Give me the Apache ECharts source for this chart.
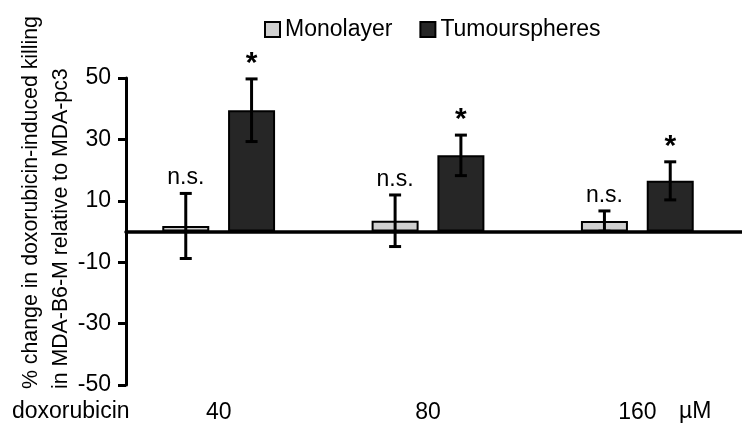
<!DOCTYPE html>
<html>
<head>
<meta charset="utf-8">
<script src="https://cdn.jsdelivr.net/npm/echarts@6/dist/echarts.min.js"></script>
<style>html,body{margin:0;padding:0;background:#fff}#c{width:742px;height:429px}</style>
</head>
<body>
<div id="c"></div>
<script>
var categories = ['40', '80', '160'];
var seriesNames = ['Monolayer', 'Tumourspheres'];
var monolayerMean = [1.8, 3.5, 3.4];
var monolayerErr = [10.6, 8.4, 3.3];
var tumourMean = [39.5, 24.8, 16.5];
var tumourErr = [10.2, 6.6, 6.2];
var monolayerNotes = ['n.s.', 'n.s.', 'n.s.'];
var tumourNotes = ['*', '*', '*'];
var yTicks = {min: -50, max: 50, interval: 20};

var FONT = '"Liberation Sans", Arial, sans-serif';
var FS = 23;
var BAR_W = 47, BAR_GAP = 0.4;
var OFF = (BAR_W + BAR_W * BAR_GAP) / 2;

function errData(means, errs, notes) {
  return means.map(function (m, i) { return [i, m, errs[i], notes[i]]; });
}

function errRender(sign, isStar) {
  return function (params, api) {
    var i = api.value(0), m = api.value(1), e = api.value(2);
    var note = api.value(3);
    var top = api.coord([i, m + e]);
    var bot = api.coord([i, m - e]);
    var x = top[0] + sign * OFF;
    var cap = 6;
    var st = {stroke: '#000', lineWidth: 3};
    return {
      type: 'group',
      children: [
        {type: 'line', shape: {x1: x, y1: top[1], x2: x, y2: bot[1]}, style: st},
        {type: 'line', shape: {x1: x - cap, y1: top[1], x2: x + cap, y2: top[1]}, style: st},
        {type: 'line', shape: {x1: x - cap, y1: bot[1], x2: x + cap, y2: bot[1]}, style: st},
        {type: 'text', x: x, y: top[1] - (isStar ? 0 : 4),
          style: {text: note, fill: '#000', font: (isStar ? 'bold 30px ' : FS + 'px ') + FONT,
            align: 'center', verticalAlign: 'bottom'}}
      ]
    };
  };
}

var chart = echarts.init(document.getElementById('c'));
chart.setOption({
  animation: false,
  backgroundColor: '#fff',
  textStyle: {fontFamily: FONT, color: '#000'},
  legend: {
    left: 259, top: 13, itemWidth: 15, itemHeight: 15, itemGap: 27, icon: 'rect',
    data: seriesNames,
    itemStyle: {borderColor: '#000', borderWidth: 2},
    textStyle: {fontSize: FS, color: '#000', fontFamily: FONT}
  },
  grid: [
    {left: 126, right: 0, top: 78, bottom: 44},
    {left: 114, right: 0, top: 78, bottom: 44}
  ],
  xAxis: [
    {type: 'category', gridIndex: 0, data: categories,
      axisLine: {onZero: true, lineStyle: {color: '#000', width: 3.5}},
      axisTick: {show: false}, axisLabel: {show: false}, splitLine: {show: false}},
    {type: 'category', gridIndex: 1, data: categories,
      axisLine: {show: false, onZero: false}, axisTick: {show: false},
      axisLabel: {fontSize: FS, color: '#000', margin: 16, fontFamily: FONT}}
  ],
  yAxis: [
    {type: 'value', gridIndex: 0, min: yTicks.min, max: yTicks.max, interval: yTicks.interval,
      axisLine: {show: true, lineStyle: {color: '#000', width: 3}},
      axisTick: {show: true, length: 8, lineStyle: {color: '#000', width: 3}},
      axisLabel: {fontSize: FS, color: '#000', margin: 15, fontFamily: FONT},
      splitLine: {show: false}},
    {type: 'value', gridIndex: 1, min: yTicks.min, max: yTicks.max, interval: yTicks.interval,
      show: false, splitLine: {show: false}}
  ],
  graphic: [
    {type: 'text', left: 12, top: 400, style: {text: 'doxorubicin', font: FS + 'px ' + FONT, fill: '#000'}},
    {type: 'text', left: 679, top: 400, style: {text: 'µM', font: FS + 'px ' + FONT, fill: '#000'}},
    {type: 'text', x: 31, y: 389, rotation: Math.PI / 2,
      style: {text: '% change in doxorubicin-induced killing', font: '21.3px ' + FONT, fill: '#000', align: 'left', verticalAlign: 'middle'}},
    {type: 'text', x: 61, y: 389, rotation: Math.PI / 2,
      style: {text: 'in MDA-B6-M relative to MDA-pc3', font: '21.3px ' + FONT, fill: '#000', align: 'left', verticalAlign: 'middle'}}
  ],
  series: [
    {name: seriesNames[0], type: 'bar', xAxisIndex: 1, yAxisIndex: 1, data: monolayerMean,
      barWidth: BAR_W, barGap: (BAR_GAP * 100) + '%',
      itemStyle: {color: '#d0d0d0', borderColor: '#000', borderWidth: 2}},
    {name: seriesNames[1], type: 'bar', xAxisIndex: 1, yAxisIndex: 1, data: tumourMean,
      barWidth: BAR_W, barGap: (BAR_GAP * 100) + '%',
      itemStyle: {color: '#262626', borderColor: '#000', borderWidth: 2}},
    {type: 'custom', xAxisIndex: 1, yAxisIndex: 1, z: 5, renderItem: errRender(-1, false),
      data: errData(monolayerMean, monolayerErr, monolayerNotes)},
    {type: 'custom', xAxisIndex: 1, yAxisIndex: 1, z: 5, renderItem: errRender(1, true),
      data: errData(tumourMean, tumourErr, tumourNotes)}
  ]
});
</script>
</body>
</html>
